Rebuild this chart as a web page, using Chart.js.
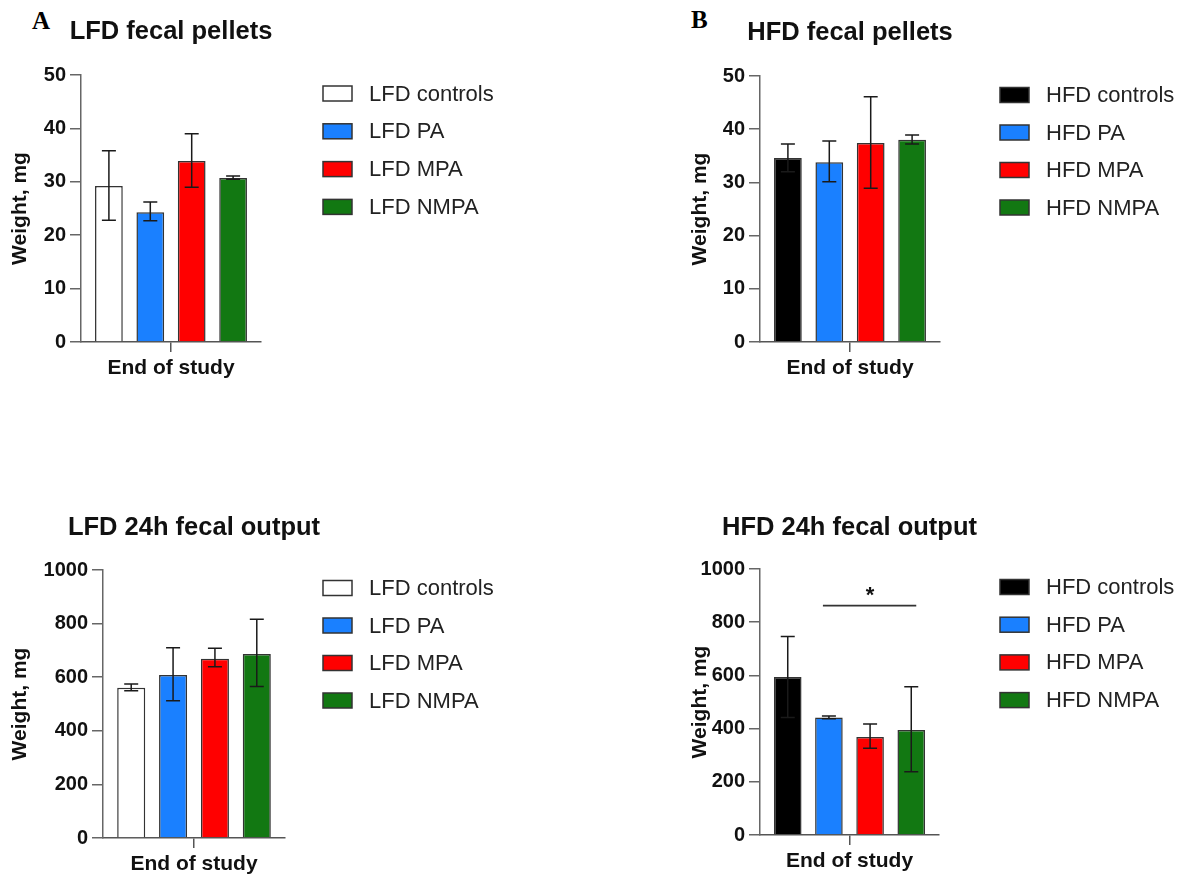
<!DOCTYPE html>
<html><head><meta charset="utf-8">
<script src="https://cdn.jsdelivr.net/npm/chart.js@4.4.1/dist/chart.umd.min.js"></script>
<style>
html,body{margin:0;padding:0;background:#fff;width:1180px;height:876px;overflow:hidden;position:relative}
canvas{position:absolute}
.pl{position:absolute;font-family:'Liberation Serif','Times New Roman',serif;font-weight:bold;font-size:25px;line-height:25px;color:#000}
</style></head><body>
<div class="pl" style="left:32px;top:8px">A</div>
<div class="pl" style="left:691px;top:7px">B</div>
<canvas id="cA" width="590" height="438" style="left:0;top:0"></canvas>
<canvas id="cB" width="590" height="438" style="left:590px;top:0"></canvas>
<canvas id="cC" width="590" height="438" style="left:0;top:438px"></canvas>
<canvas id="cD" width="590" height="438" style="left:590px;top:438px"></canvas>
<script>
// ---- data ----
const category = ['End of study'];
const lfdGroups = ['LFD controls', 'LFD PA', 'LFD MPA', 'LFD NMPA'];
const hfdGroups = ['HFD controls', 'HFD PA', 'HFD MPA', 'HFD NMPA'];

const lfdPelletMean = [29.2, 24.3, 33.9, 30.7];
const lfdPelletLow  = [22.8, 22.7, 29.0, 30.5];
const lfdPelletHigh = [35.8, 26.2, 39.0, 31.1];

const hfdPelletMean = [34.6, 33.8, 37.4, 38.0];
const hfdPelletLow  = [32.0, 30.1, 28.9, 37.2];
const hfdPelletHigh = [37.2, 37.8, 46.1, 38.9];

const lfdOutputMean = [561, 608, 669, 687];
const lfdOutputLow  = [549, 512, 639, 565];
const lfdOutputHigh = [575, 710, 708, 816];

const hfdOutputMean = [594, 442, 368, 395];
const hfdOutputLow  = [442, 437, 326, 238];
const hfdOutputHigh = [746, 447, 417, 557];

const hfdOutputSig = { from: 'HFD PA', to: 'HFD NMPA', level: 862, text: '*' };

const pelletAxis = { min: 0, max: 50, step: 10 };
const outputAxis = { min: 0, max: 1000, step: 200 };

// ---- styles ----
const FONT = "'Liberation Sans', Arial, Helvetica, sans-serif";
const lfdColors = ['#ffffff', '#1a80ff', '#ff0000', '#127812'];
const hfdColors = ['#000000', '#1a80ff', '#ff0000', '#127812'];
Chart.defaults.font.family = FONT;
Chart.defaults.color = '#111';

const errorBars = {
  id: 'errorBars',
  afterDatasetsDraw(chart) {
    const ctx = chart.ctx, y = chart.scales.y;
    ctx.save();
    ctx.strokeStyle = '#1a1a1a';
    ctx.lineWidth = 1.5;
    chart.data.datasets.forEach((ds, i) => {
      const meta = chart.getDatasetMeta(i);
      meta.data.forEach((bar, j) => {
        const x = bar.x;
        const lo = y.getPixelForValue(ds.errLow[j]);
        const hi = y.getPixelForValue(ds.errHigh[j]);
        const cap = 7;
        ctx.beginPath();
        ctx.moveTo(x, lo); ctx.lineTo(x, hi);
        ctx.moveTo(x - cap, hi); ctx.lineTo(x + cap, hi);
        ctx.moveTo(x - cap, lo); ctx.lineTo(x + cap, lo);
        ctx.stroke();
      });
    });
    ctx.restore();
  }
};

const panelTitle = {
  id: 'panelTitle',
  afterDraw(chart, args, opts) {
    if (!opts || !opts.text) return;
    const ctx = chart.ctx, a = chart.chartArea;
    ctx.save();
    ctx.font = 'bold 25.5px ' + FONT;
    ctx.fillStyle = '#111';
    ctx.textAlign = 'center';
    ctx.textBaseline = 'middle';
    ctx.fillText(opts.text, (a.left + a.right) / 2, opts.y);
    ctx.restore();
  }
};

const sideLegend = {
  id: 'sideLegend',
  afterDraw(chart, args, opts) {
    if (!opts || opts.x === undefined) return;
    const ctx = chart.ctx;
    ctx.save();
    ctx.font = '22px ' + FONT;
    ctx.textBaseline = 'middle';
    ctx.textAlign = 'left';
    chart.data.datasets.forEach((ds, i) => {
      const cy = opts.y + i * opts.spacing;
      ctx.fillStyle = ds.backgroundColor;
      ctx.fillRect(opts.x, cy - 7.5, 29, 15);
      ctx.lineWidth = 1.5;
      ctx.strokeStyle = '#333';
      ctx.strokeRect(opts.x, cy - 7.5, 29, 15);
      ctx.fillStyle = '#222';
      ctx.fillText(ds.label, opts.textX, cy + 1);
    });
    ctx.restore();
  }
};

const sigBar = {
  id: 'sigBar',
  afterDatasetsDraw(chart, args, opts) {
    if (!opts || !opts.from) return;
    const idx = n => chart.data.datasets.findIndex(d => d.label === n);
    const a = chart.getDatasetMeta(idx(opts.from)).data[0];
    const b = chart.getDatasetMeta(idx(opts.to)).data[0];
    const yy = chart.scales.y.getPixelForValue(opts.level);
    const ctx = chart.ctx;
    ctx.save();
    ctx.strokeStyle = '#333';
    ctx.lineWidth = 1.8;
    ctx.beginPath();
    ctx.moveTo(a.x - 6, yy); ctx.lineTo(b.x + 5, yy);
    ctx.stroke();
    ctx.fillStyle = '#111';
    ctx.font = 'bold 22px ' + FONT;
    ctx.textAlign = 'center';
    ctx.textBaseline = 'middle';
    ctx.fillText(opts.text, (a.x + b.x) / 2, yy - 10);
    ctx.restore();
  }
};

function makeChart(id, p) {
  const datasets = p.groups.map((g, i) => ({
    label: g,
    data: [p.mean[i]],
    errLow: [p.low[i]],
    errHigh: [p.high[i]],
    backgroundColor: p.colors[i],
    borderColor: '#333',
    borderWidth: 1.5,
    categoryPercentage: 0.92,
    barPercentage: 0.67
  }));
  return new Chart(document.getElementById(id), {
    type: 'bar',
    data: { labels: category, datasets },
    plugins: [errorBars, panelTitle, sideLegend, sigBar],
    options: {
      responsive: false,
      animation: false,
      devicePixelRatio: 1,
      layout: { padding: { left: p.padLeft, right: p.padRight, top: p.padTop, bottom: 0 } },
      plugins: {
        legend: { display: false },
        tooltip: { enabled: false },
        title: { display: false },
        panelTitle: { text: p.title, y: p.titleY },
        sideLegend: p.legend,
        sigBar: p.sig || {}
      },
      scales: {
        x: {
          afterFit: s => { s.height = p.xHeight; },
          grid: { display: true, offset: false, drawOnChartArea: false, drawTicks: true, tickLength: 10, color: '#555', lineWidth: 1.5 },
          border: { display: true, color: '#555', width: 1.5, dash: [2, 2] },
          ticks: { font: { size: 21, weight: 'bold' }, color: '#111', padding: 4, maxRotation: 0 }
        },
        y: {
          min: p.axis.min, max: p.axis.max,
          afterFit: s => { s.width = p.yWidth; },
          grid: { display: true, drawOnChartArea: false, drawTicks: true, tickLength: 11, color: '#666', lineWidth: 1.5 },
          border: { display: true, color: '#666', width: 1.5 },
          ticks: { stepSize: p.axis.step, font: { size: 20, weight: 'bold' }, color: '#111', padding: 4, callback: v => String(v) },
          title: { display: true, text: 'Weight, mg', font: { size: 21, weight: 'bold' }, color: '#111', padding: { top: 8, bottom: 0 } }
        }
      }
    }
  });
}

makeChart('cA', {
  title: 'LFD fecal pellets', groups: lfdGroups, colors: lfdColors,
  mean: lfdPelletMean, low: lfdPelletLow, high: lfdPelletHigh, axis: pelletAxis,
  padLeft: 0, padRight: 329, padTop: 75, yWidth: 81, xHeight: 96, titleY: 32,
  legend: { x: 323, textX: 369, y: 93.5, spacing: 37.8 }
});
makeChart('cB', {
  title: 'HFD fecal pellets', groups: hfdGroups, colors: hfdColors,
  mean: hfdPelletMean, low: hfdPelletLow, high: hfdPelletHigh, axis: pelletAxis,
  padLeft: 90, padRight: 240, padTop: 76, yWidth: 80, xHeight: 96, titleY: 33,
  legend: { x: 410, textX: 456, y: 95, spacing: 37.5 }
});
makeChart('cC', {
  title: 'LFD 24h fecal output', groups: lfdGroups, colors: lfdColors,
  mean: lfdOutputMean, low: lfdOutputLow, high: lfdOutputHigh, axis: outputAxis,
  padLeft: 0, padRight: 305, padTop: 132, yWidth: 103, xHeight: 38, titleY: 90,
  legend: { x: 323, textX: 369, y: 150, spacing: 37.5 }
});
makeChart('cD', {
  title: 'HFD 24h fecal output', groups: hfdGroups, colors: hfdColors,
  mean: hfdOutputMean, low: hfdOutputLow, high: hfdOutputHigh, axis: outputAxis,
  padLeft: 90, padRight: 241, padTop: 131, yWidth: 80, xHeight: 41, titleY: 90,
  legend: { x: 410, textX: 456, y: 149, spacing: 37.7 },
  sig: hfdOutputSig
});
</script>
</body></html>
